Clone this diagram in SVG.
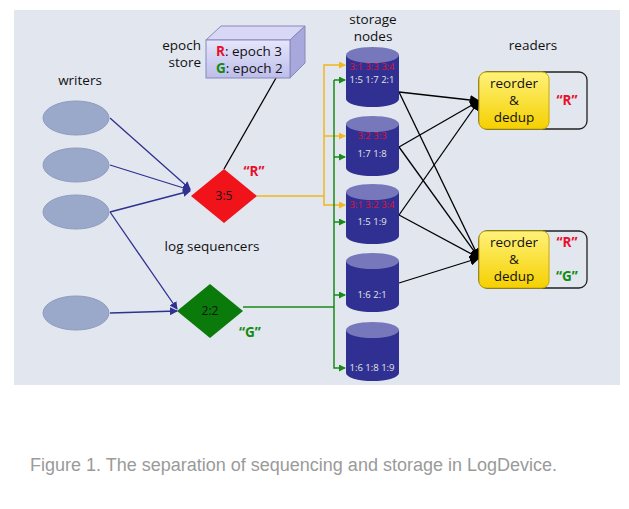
<svg xmlns="http://www.w3.org/2000/svg" width="629" height="509" viewBox="0 0 629 509">
<defs>
<style>
text{font-family:"Open Sans","DejaVu Sans",sans-serif;font-size:13.5px;fill:#111}
.w{fill:#9aa8c9;stroke:#8e9cc0}
.ct{fill:#303092;stroke:none}
.top{fill:#7777bb}
.r{fill:#e8102a}
.g{fill:#118a11}
.n{font-size:9.5px;fill:#e4e4e4}
.nr{font-size:9.5px;fill:#e01030}
.bl{stroke:#303090;stroke-width:1.3;fill:none}
.k{stroke:#000;stroke-width:1.3;fill:none}
.y{stroke:#f0b820;stroke-width:1.5;fill:none}
.gr{stroke:#1a8a1a;stroke-width:1.5;fill:none}
</style>
<marker id="ab" markerWidth="8" markerHeight="8" refX="7" refY="4" orient="auto" markerUnits="userSpaceOnUse"><path d="M0,0L8,4L0,8z" fill="#303090"/></marker>
<marker id="ak" markerWidth="10" markerHeight="10" refX="9" refY="5" orient="auto" markerUnits="userSpaceOnUse"><path d="M0,0L10,5L0,10z" fill="#000"/></marker>
<marker id="ay" markerWidth="7" markerHeight="7" refX="6" refY="3.5" orient="auto" markerUnits="userSpaceOnUse"><path d="M0,0L7,3.5L0,7z" fill="#f0b820"/></marker>
<marker id="ag" markerWidth="7" markerHeight="7" refX="6" refY="3.5" orient="auto" markerUnits="userSpaceOnUse"><path d="M0,0L7,3.5L0,7z" fill="#1a8a1a"/></marker>
<linearGradient id="yg" x1="0" y1="0" x2="0" y2="1"><stop offset="0" stop-color="#fff27a"/><stop offset="1" stop-color="#f5d000"/></linearGradient>
<linearGradient id="eg" x1="0" y1="0" x2="0" y2="1"><stop offset="0" stop-color="#e6e6fb"/><stop offset="1" stop-color="#bdbdea"/></linearGradient>
</defs>
<rect width="629" height="509" fill="#fff"/>
<rect x="14" y="10" width="606" height="375" fill="#e1e6ef"/>
<text x="30" y="471" style="font-family:'Liberation Sans',Arial,sans-serif;font-size:18px;fill:#9a9a9a">Figure 1. The separation of sequencing and storage in LogDevice.</text>

<g id="connectors">
<path class="bl" d="M110,118L190,189" marker-end="url(#ab)"/>
<path class="bl" d="M110,165L190,190" marker-end="url(#ab)"/>
<path class="bl" d="M110,212L190,191" marker-end="url(#ab)"/>
<path class="bl" d="M110,212L177,309" marker-end="url(#ab)"/>
<path class="bl" d="M110,313L177,311" marker-end="url(#ab)"/>
<path class="k" d="M276,78L224,169"/>
<path class="y" d="M257,196H324V65H345" marker-end="url(#ay)"/>
<path class="y" d="M324,136H345" marker-end="url(#ay)"/>
<path class="y" d="M324,196V205H345" marker-end="url(#ay)"/>
<path class="gr" d="M243,307H334"/>
<path class="gr" d="M334,80V368H345" marker-end="url(#ag)"/>
<path class="gr" d="M334,80H345" marker-end="url(#ag)"/>
<path class="gr" d="M334,157H345" marker-end="url(#ag)"/>
<path class="gr" d="M334,222H345" marker-end="url(#ag)"/>
<path class="gr" d="M334,295H345" marker-end="url(#ag)"/>
<path class="k" d="M399,92L479,101" marker-end="url(#ak)"/>
<path class="k" d="M399,92L479,258" marker-end="url(#ak)"/>
<path class="k" d="M399,147L479,101" marker-end="url(#ak)"/>
<path class="k" d="M399,147L479,258" marker-end="url(#ak)"/>
<path class="k" d="M399,215L479,101" marker-end="url(#ak)"/>
<path class="k" d="M399,215L479,258" marker-end="url(#ak)"/>
<path class="k" d="M399,283L479,258" marker-end="url(#ak)"/>
</g>

<text x="80" y="85" text-anchor="middle">writers</text>
<g id="w1"><ellipse class="w" cx="76" cy="118" rx="33" ry="17"/></g>
<g id="w2"><ellipse class="w" cx="76" cy="165" rx="33" ry="17"/></g>
<g id="w3"><ellipse class="w" cx="76" cy="212" rx="33" ry="17"/></g>
<g id="w4"><ellipse class="w" cx="76" cy="313" rx="33" ry="17"/></g>

<g id="epoch-store">
<text x="201" y="50" text-anchor="end">epoch</text>
<text x="201" y="67" text-anchor="end">store</text>
<path d="M206,40L221,26H305L290,40z" fill="#d8d8f6" stroke="#8888bb"/>
<path d="M290,40L305,26V63L290,78z" fill="#a8a8dc" stroke="#8888bb"/>
<rect x="206" y="40" width="84" height="38" fill="url(#eg)" stroke="#8888bb"/>
<text x="216" y="56"><tspan class="r" style="font-weight:bold">R</tspan>: epoch 3</text>
<text x="216" y="73"><tspan class="g" style="font-weight:bold">G</tspan>: epoch 2</text>
</g>

<g id="seq-r">
<path d="M224,169L257,196L224,223L191,196z" fill="#f0141a"/>
<text x="224" y="200" text-anchor="middle" style="font-size:12px">3:5</text>
<text x="254" y="176" text-anchor="middle" class="r" style="font-weight:bold">“R”</text>
</g>
<text x="212" y="251" text-anchor="middle">log sequencers</text>
<g id="seq-g">
<path d="M210,284L243,311L210,338L177,311z" fill="#0a7a0a"/>
<text x="210" y="315" text-anchor="middle" style="font-size:12px">2:2</text>
<text x="250" y="337" text-anchor="middle" class="g" style="font-weight:bold">“G”</text>
</g>

<text x="373" y="24" text-anchor="middle">storage</text>
<text x="373" y="41" text-anchor="middle">nodes</text>
<g id="s1"><path class="ct" d="M346,55V99A26.5,8 0 0 0 399,99V55z"/><ellipse class="top" cx="372.5" cy="55" rx="26.5" ry="8"/>
<text x="372" y="70" text-anchor="middle" class="nr">3:1 3:3 3:4</text><text x="372" y="83" text-anchor="middle" class="n">1:5 1:7 2:1</text></g>
<g id="s2"><path class="ct" d="M346,124V168A26.5,8 0 0 0 399,168V124z"/><ellipse class="top" cx="372.5" cy="124" rx="26.5" ry="8"/>
<text x="372" y="139" text-anchor="middle" class="nr">3:2 3:3</text><text x="372" y="157" text-anchor="middle" class="n">1:7 1:8</text></g>
<g id="s3"><path class="ct" d="M346,192V236A26.5,8 0 0 0 399,236V192z"/><ellipse class="top" cx="372.5" cy="192" rx="26.5" ry="8"/>
<text x="372" y="208" text-anchor="middle" class="nr">3:1 3:2 3:4</text><text x="372" y="225" text-anchor="middle" class="n">1:5 1:9</text></g>
<g id="s4"><path class="ct" d="M346,261V304A26.5,8 0 0 0 399,304V261z"/><ellipse class="top" cx="372.5" cy="261" rx="26.5" ry="8"/>
<text x="372" y="298" text-anchor="middle" class="n">1:6 2:1</text></g>
<g id="s5"><path class="ct" d="M346,330V373A26.5,8 0 0 0 399,373V330z"/><ellipse class="top" cx="372.5" cy="330" rx="26.5" ry="8"/>
<text x="372" y="371" text-anchor="middle" class="n">1:6 1:8 1:9</text></g>

<text x="533" y="50" text-anchor="middle">readers</text>
<g id="reader1">
<rect x="479" y="72" width="108" height="57" rx="8" fill="none" stroke="#222" stroke-width="1.3"/>
<rect x="479" y="72" width="70" height="57" rx="7" fill="url(#yg)" stroke="#c8a800"/>
<text x="514" y="88" text-anchor="middle">reorder</text><text x="514" y="105" text-anchor="middle">&amp;</text><text x="514" y="122" text-anchor="middle">dedup</text>
<text x="567" y="105" text-anchor="middle" class="r" style="font-weight:bold">“R”</text>
</g>
<g id="reader2">
<rect x="479" y="231" width="108" height="57" rx="8" fill="none" stroke="#222" stroke-width="1.3"/>
<rect x="479" y="231" width="70" height="57" rx="7" fill="url(#yg)" stroke="#c8a800"/>
<text x="514" y="247" text-anchor="middle">reorder</text><text x="514" y="264" text-anchor="middle">&amp;</text><text x="514" y="281" text-anchor="middle">dedup</text>
<text x="567" y="247" text-anchor="middle" class="r" style="font-weight:bold">“R”</text>
<text x="567" y="281" text-anchor="middle" class="g" style="font-weight:bold">“G”</text>
</g>
</svg>
